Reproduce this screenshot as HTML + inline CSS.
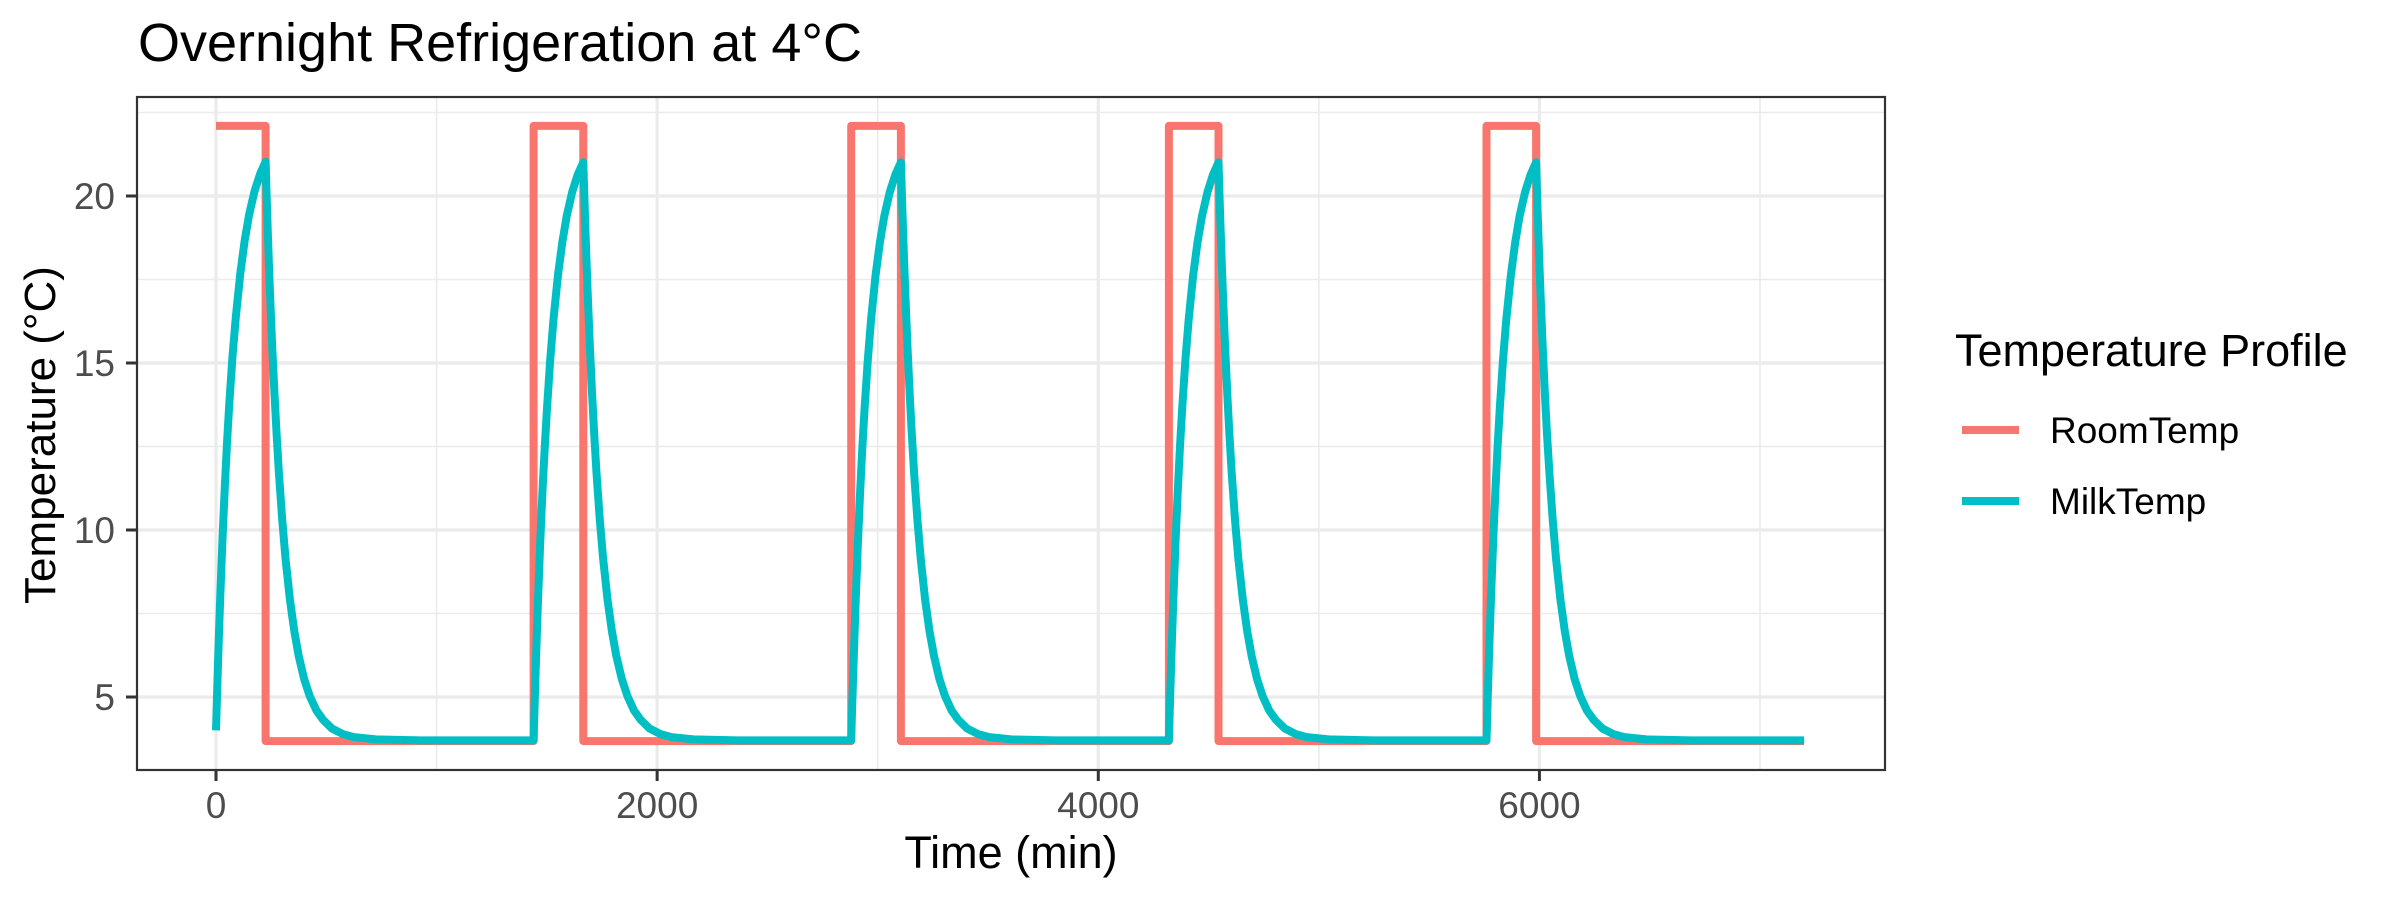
<!DOCTYPE html>
<html><head><meta charset="utf-8"><style>
html,body{margin:0;padding:0;background:#fff;}
svg{display:block;font-family:"Liberation Sans",Arial,sans-serif;}
</style></head><body>
<svg id="chart" width="2400" height="900" viewBox="0 0 2400 900" xmlns="http://www.w3.org/2000/svg">
<text x="138" y="61" font-size="54" fill="#000">Overnight Refrigeration at 4°C</text>
<g id="grid"></g>
<g id="series"></g>
<rect x="137" y="97" width="1748" height="673" fill="none" stroke="#333" stroke-width="2.2"/>
<g id="axes"></g>
<text x="1011" y="868" font-size="45" text-anchor="middle" fill="#000">Time (min)</text>
<text transform="translate(55,435) rotate(-90)" font-size="44" text-anchor="middle" fill="#000">Temperature (°C)</text>
<g>
<text x="1955" y="366" font-size="45" fill="#000">Temperature Profile</text>
<g>
<line x1="1962" y1="430" x2="2019" y2="430" stroke="#F8766D" stroke-width="8"/>
<text x="2050" y="443" font-size="37" fill="#000">RoomTemp</text>
</g>
<g>
<line x1="1962" y1="501" x2="2019" y2="501" stroke="#00BFC4" stroke-width="8"/>
<text x="2050" y="514" font-size="37" fill="#000">MilkTemp</text>
</g>
</g>
</svg>
<script>
const xTicks = [0, 2000, 4000, 6000];
const xMinor = [1000, 3000, 5000, 7000];
const yTicks = [5, 10, 15, 20];
const yMinor = [7.5, 12.5, 17.5, 22.5];
// Room temperature step profile (breakpoints)
const roomTimes = [0, 225, 225, 1440, 1440, 1665, 1665, 2880, 2880, 3105, 3105, 4320, 4320, 4545, 4545, 5760, 5760, 5985, 5985, 7200];
const roomTemps = [22.1, 22.1, 3.68, 3.68, 22.1, 22.1, 3.68, 3.68, 22.1, 22.1, 3.68, 3.68, 22.1, 22.1, 3.68, 3.68, 22.1, 22.1, 3.68, 3.68];
// Milk temperature: cycle starts and per-cycle samples
const cycleStarts = [0, 1440, 2880, 4320, 5760];
const milkOffsets = [0, 5, 10, 15, 20, 30, 40, 50, 60, 75, 90, 110, 130, 150, 175, 200, 225,
  230, 235, 240, 245, 255, 265, 275, 285, 300, 315, 335, 355, 375, 400, 425, 455, 485, 525, 575, 625, 725, 925, 1439];
const milkFirstCycle = [4.0, 5.13, 6.20, 7.19, 8.12, 9.81, 11.29, 12.60, 13.74, 15.20, 16.40, 17.68, 18.67, 19.44, 20.15, 20.66, 21.03,
  19.93, 18.92, 17.97, 17.09, 15.48, 14.06, 12.82, 11.71, 10.31, 9.15, 7.92, 6.97, 6.23, 5.53, 5.03, 4.60, 4.32, 4.06, 3.89, 3.80, 3.73, 3.70, 3.70];
const milkCycle = [3.7, 4.85, 5.93, 6.94, 7.89, 9.61, 11.12, 12.45, 13.60, 15.09, 16.31, 17.61, 18.61, 19.40, 20.12, 20.64, 21.01,
  19.93, 18.92, 17.97, 17.09, 15.48, 14.06, 12.82, 11.71, 10.31, 9.15, 7.92, 6.97, 6.23, 5.53, 5.03, 4.60, 4.32, 4.06, 3.89, 3.80, 3.73, 3.70, 3.70];
const milkEnd = [7200, 3.7];

const NS = 'http://www.w3.org/2000/svg';
const L = 137, R = 1885, T = 97, B = 770;
function xs(t) { return 216 + t * (1760 - 216) / 7000; }
function ys(v) { return 697 - (v - 5) * (697 - 196) / 15; }
function mk(tag, attrs, parent) {
  const e = document.createElementNS(NS, tag);
  for (const k in attrs) e.setAttribute(k, attrs[k]);
  parent.appendChild(e);
  return e;
}
const grid = document.getElementById('grid');
const axes = document.getElementById('axes');
const series = document.getElementById('series');
mk('rect', {x: L, y: T, width: R - L, height: B - T, fill: '#fff'}, grid);
yMinor.forEach(v => {
  const e = mk('line', {x1: L, x2: R, y1: ys(v), y2: ys(v), stroke: '#ebebeb', 'stroke-width': 1.6}, grid);
  
  
});
xMinor.forEach(v => {
  const e = mk('line', {x1: xs(v), x2: xs(v), y1: T, y2: B, stroke: '#ebebeb', 'stroke-width': 1.6}, grid);
  
  
});
yTicks.forEach(v => {
  const e = mk('line', {x1: L, x2: R, y1: ys(v), y2: ys(v), stroke: '#ebebeb', 'stroke-width': 3.2}, grid);
  
  
  const t = mk('line', {x1: L - 11, x2: L, y1: ys(v), y2: ys(v), stroke: '#333', 'stroke-width': 3}, axes);
  
  
  const lb = mk('text', {x: 115, y: ys(v) + 13, 'font-size': 37, 'text-anchor': 'end', fill: '#4d4d4d'}, axes);
  lb.textContent = v;
  
  
});
xTicks.forEach(v => {
  const e = mk('line', {x1: xs(v), x2: xs(v), y1: T, y2: B, stroke: '#ebebeb', 'stroke-width': 3.2}, grid);
  
  
  const t = mk('line', {x1: xs(v), x2: xs(v), y1: B, y2: B + 11, stroke: '#333', 'stroke-width': 3}, axes);
  
  
  const lb = mk('text', {x: xs(v), y: 818, 'font-size': 37, 'text-anchor': 'middle', fill: '#4d4d4d'}, axes);
  lb.textContent = v;
  
  
});
// Room temp line
let d = roomTimes.map((t, i) => (i ? 'L' : 'M') + xs(t).toFixed(1) + ',' + ys(roomTemps[i]).toFixed(1)).join(' ');
const room = mk('path', {d: d, fill: 'none', stroke: '#F8766D', 'stroke-width': 8, 'stroke-linejoin': 'round'}, series);


// Milk temp line
const pts = [];
cycleStarts.forEach((c, ci) => {
  const vals = ci === 0 ? milkFirstCycle : milkCycle;
  milkOffsets.forEach((o, i) => pts.push([c + o, vals[i]]));
});
pts.push(milkEnd);
d = pts.map((p, i) => (i ? 'L' : 'M') + xs(p[0]).toFixed(1) + ',' + ys(p[1]).toFixed(1)).join(' ');
const milk = mk('path', {d: d, fill: 'none', stroke: '#00BFC4', 'stroke-width': 8, 'stroke-linejoin': 'round'}, series);


</script>
</body></html>
